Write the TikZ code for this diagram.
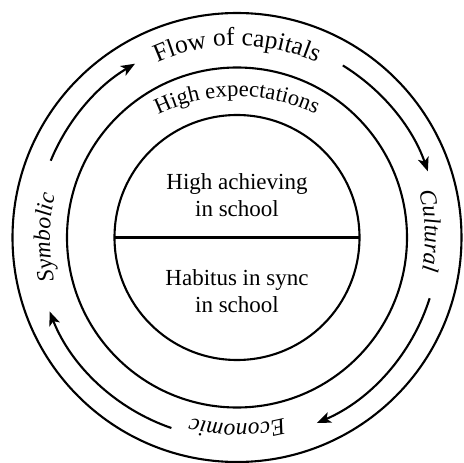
\documentclass[tikz,border=0pt]{standalone}
\usepackage{fontspec}
\setmainfont{Liberation Serif}
\usetikzlibrary{arrows.meta,decorations.text}
\newcommand\innerfont{\fontsize{23}{26.7}\selectfont}
\newcommand\flowfont{\fontsize{25.5}{30}\selectfont}
\newcommand\expfont{\fontsize{22.5}{27}\selectfont}
\newcommand\capfont{\fontsize{23.5}{28}\selectfont\itshape}
\begin{document}
\begin{tikzpicture}[
  ring/.style={line width=2.1pt},
  flowarrow/.style={line width=2.1pt, -{Stealth[length=14pt,width=11pt,inset=3.5pt]}},
  innertext/.style={font=\innerfont, align=center, anchor=base},
]
\useasboundingbox (-237pt,-225.5pt) rectangle (226pt,237.5pt);
\coordinate (c) at (0pt,0pt);
\draw[ring] (c) circle[radius=224.5pt];
\draw[ring] (c) circle[radius=170pt];
\node[ring, draw, circle, minimum size=245pt, inner sep=0pt, outer sep=0pt] (core) at (c) {};
\draw[ring] (core.west) -- (core.east);

\node[innertext] (upper) at (0pt,20.8pt) {High achieving\\in school};
\node[innertext] (lower) at (0pt,-74.8pt) {Habitus in sync\\in school};

\path[decorate, decoration={text along path, text align=center, text={|\flowfont|Flow of capitals}}]
  (140:192pt) arc[start angle=140, end angle=40, radius=192pt];
\path[shift={(0pt,-40pt)}, decorate, decoration={text along path, text align=center, text={|\expfont|High expectations}}]
  (130:181pt) arc[start angle=130, end angle=50, radius=181pt];
\path[decorate, decoration={text along path, text align=center, text={|\capfont|Cultural}}]
  (42:188pt) arc[start angle=42, end angle=-38, radius=188pt];
\path[decorate, decoration={text along path, text align=center, text={|\capfont|Economic}}]
  (-50:186.5pt) arc[start angle=-50, end angle=-130, radius=186.5pt];
\path[decorate, decoration={text along path, text align=center, text={|\capfont|Symbolic}}]
  (220:187pt) arc[start angle=220, end angle=140, radius=187pt];

\draw[flowarrow] (157.6:201.5pt) arc[start angle=157.6, end angle=120.4, radius=201.5pt];
\draw[flowarrow] (58.4:202pt) arc[start angle=58.4, end angle=19.1, radius=202pt];
\draw[flowarrow] (-17.5:202pt) arc[start angle=-17.5, end angle=-66.7, radius=202pt];
\draw[flowarrow] (-109:201.5pt) arc[start angle=-109, end angle=-158.5, radius=201.5pt];
\end{tikzpicture}
\end{document}
